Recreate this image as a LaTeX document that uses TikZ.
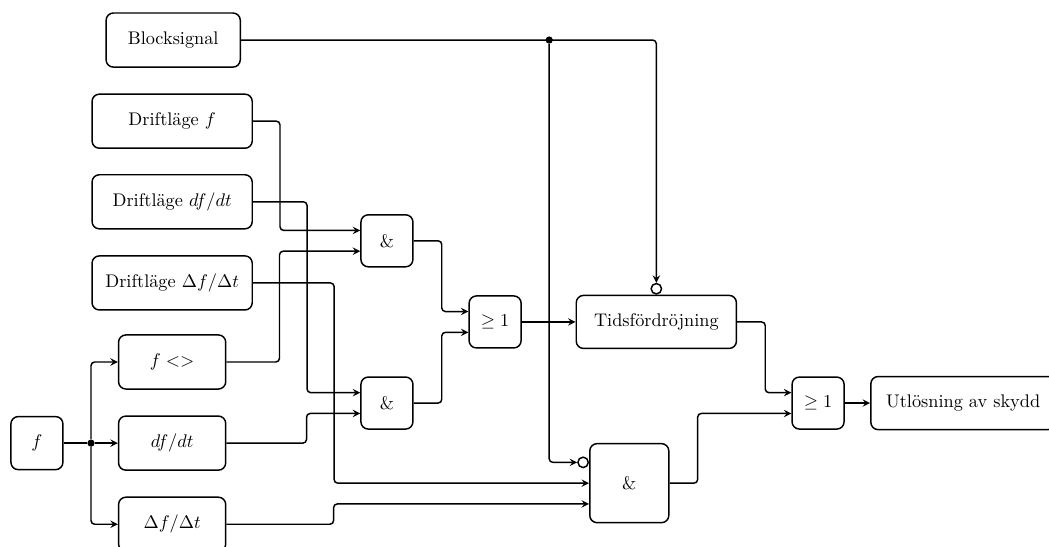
\documentclass[tikz,border=0pt]{standalone}
\usepackage{amsmath,amssymb}
\usetikzlibrary{arrows,positioning,calc}

\begin{document}
\begin{tikzpicture}[
    block/.style={draw, thick, rounded corners, minimum width=3.08cm, minimum height=1.04cm, align=center},
    sig/.style={block, minimum width=2.06cm},
    gate/.style={draw, thick, rounded corners, minimum width=1cm, minimum height=1cm},
    neg/.style={draw, thick, circle, fill=white, inner sep=0pt, minimum size=0.2cm},
    dot/.style={circle, fill, inner sep=0pt, minimum size=0.14cm},
    arrow/.style={->, thick, >=stealth, rounded corners=2pt}
]
    \useasboundingbox (0,0) rectangle (20.17,-10.5);

    % inputs
    \node[block, minimum width=2.58cm] (blk) at (3.33,-0.77) {Blocksignal};
    \node[block] (drf) at (3.31,-2.33) {Driftläge $f$};
    \node[block] (drd) at (3.31,-3.88) {Driftläge $df/dt$};
    \node[block] (drD) at (3.31,-5.44) {Driftläge $\Delta f/\Delta t$};
    \node[gate, minimum height=1.02cm] (f) at (0.71,-8.52) {$f$};
    \node[sig] (fne) at (3.31,-6.96) {$f <>$};
    \node[sig] (fd) at (3.31,-8.52) {$df/dt$};
    \node[sig] (fD) at (3.31,-10.08) {$\Delta f/\Delta t$};
    \node[dot] (split) at (1.75,-8.52) {};

    % logic
    \node[gate] (and1) at (7.44,-4.63) {\&};
    \node[gate] (and2) at (7.44,-7.75) {\&};
    \node[gate] (or1) at (9.52,-6.19) {$\geq 1$};
    \node[block, minimum height=1.02cm] (tids) at (12.62,-6.19) {Tidsfördröjning};
    \node[gate, minimum size=1.52cm] (bigand) at (12.10,-9.29) {\&};
    \node[gate] (or2) at (15.73,-7.75) {$\geq 1$};
    \node[block, minimum width=3.55cm, minimum height=1.02cm, anchor=west, xshift=-0.04cm] (out) at (16.77,-7.75) {Utlösning av skydd};
    \node[neg, anchor=south] (negt) at (tids.north) {};
    \node[neg, anchor=east] (nega) at ($(bigand.west)+(0,0.4)$) {};
    \node[dot] (tap) at (10.56,-0.77) {};

    % blocking
    \draw[arrow] (blk.east) -| (negt.north);
    \draw[arrow] (tap) |- (nega.west);

    % f branches
    \draw[thick] (f.east) -- (split);
    \draw[arrow] (split) |- (fne.west);
    \draw[arrow] (split) -- (fd.west);
    \draw[arrow] (split) |- (fD.west);

    % into the and gates
    \draw[arrow] (drf.east) -- ++(0.52,0) |- ($(and1.west)+(0,0.2)$);
    \draw[arrow] (fne.east) -- ++(1.02,0) |- ($(and1.west)+(0,-0.2)$);
    \draw[arrow] (drd.east) -- ++(1.04,0) |- ($(and2.west)+(0,0.2)$);
    \draw[arrow] (fd.east) -- ++(1.54,0) |- ($(and2.west)+(0,-0.2)$);
    \draw[arrow] (drD.east) -- ++(1.56,0) |- (bigand.west);
    \draw[arrow] (fD.east) -- ++(2.06,0) |- ($(bigand.west)+(0,-0.4)$);

    % outputs
    \draw[arrow] (and1.east) -- ++(0.54,0) |- ($(or1.west)+(0,0.2)$);
    \draw[arrow] (and2.east) -- ++(0.54,0) |- ($(or1.west)+(0,-0.2)$);
    \draw[arrow] (or1) -- (tids);
    \draw[arrow] (tids.east) -- ++(0.54,0) |- ($(or2.west)+(0,0.2)$);
    \draw[arrow] (bigand.east) -- ++(0.54,0) |- ($(or2.west)+(0,-0.2)$);
    \draw[arrow] (or2) -- (out);
\end{tikzpicture}
\end{document}
